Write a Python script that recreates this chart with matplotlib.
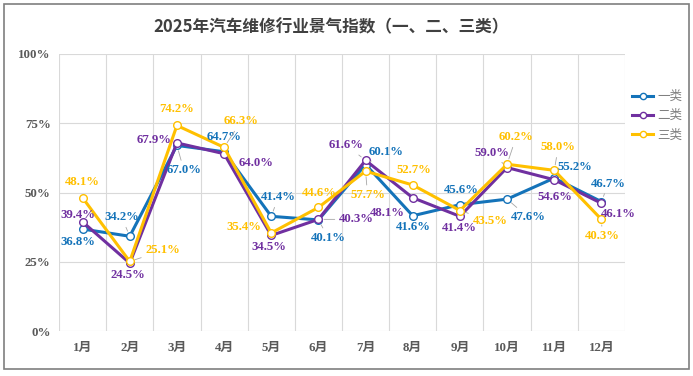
import matplotlib
matplotlib.use("Agg")
import matplotlib.pyplot as plt
from matplotlib.patches import Rectangle
import numpy as np

months = ["1月", "2月", "3月", "4月", "5月", "6月", "7月", "8月", "9月", "10月", "11月", "12月"]
series_names = ["一类", "二类", "三类"]
class1 = [36.8, 34.2, 67.0, 64.7, 41.4, 40.1, 60.1, 41.6, 45.6, 47.6, 55.2, 46.7]
class2 = [39.4, 24.5, 67.9, 64.0, 34.5, 40.3, 61.6, 48.1, 41.4, 59.0, 54.6, 46.1]
class3 = [48.1, 25.1, 74.2, 66.3, 35.4, 44.6, 57.7, 52.7, 43.5, 60.2, 58.0, 40.3]
yticks = [0, 25, 50, 75, 100]
ytick_labels = ["0%", "25%", "50%", "75%", "100%"]
title = "2025年汽车维修行业景气指数（一、二、三类）"

colors = ["#1473B9", "#7030A0", "#FFC000"]

# label offsets in pixels (dx, dy with dy positive = down) and leader flags
offsets = [
    [(-5, 13), (-8, -19), (7, 25), (0, -15), (7, -19), (10, 18), (21, -13), (1, 11), (1, -15), (21, 18), (21, -11), (7, -18)],
    [(-5, -7), (-2, 12), (-23, -3), (32, 9), (-2, 12), (38, 0), (-19, -15), (-25, 15), (-1, 12), (-15, -15), (1, 17), (17, 11)],
    [(0, -16), (33, -11), (0, -16), (17, -26), (-27, -6), (1, -14), (2, 24), (1, -15), (30, 10), (9, -27), (4, -23), (1, 17)],
]
leaders = [
    [0, 1, 1, 0, 1, 1, 1, 0, 0, 1, 0, 1],
    [0, 0, 0, 0, 0, 1, 1, 0, 0, 1, 0, 0],
    [0, 1, 0, 1, 0, 0, 1, 0, 1, 1, 1, 1],
]

fig = plt.figure(figsize=(6.93, 3.76), dpi=100)
fig.patches.append(Rectangle((4 / 693, 7 / 376), 685 / 693, 365 / 376, transform=fig.transFigure,
                             fill=False, edgecolor="#7f7f7f", linewidth=1.2))

ax = fig.add_axes([59 / 693, 45 / 376, 566 / 693, 277 / 376])
x = np.arange(len(months))
ax.set_xlim(-0.5, len(months) - 0.5)
ax.set_ylim(0, 100)

for s in ax.spines.values():
    s.set_visible(False)
for yv in yticks:
    ax.axhline(yv, color="#d9d9d9", lw=0.8, zorder=0)
for k in range(len(months) + 1):
    ax.axvline(k - 0.5, color="#d9d9d9", lw=0.8, zorder=0)

serif_bold = dict(family=["Liberation Serif", "Noto Sans CJK SC"], weight="bold")
ax.set_yticks(yticks)
ax.set_yticklabels(ytick_labels, fontsize=9.3, color="#595959", **serif_bold)
ax.set_xticks(x)
ax.set_xticklabels(months, fontsize=9.3, color="#595959", **serif_bold)
ax.tick_params(length=0, pad=8)
ax.tick_params(axis="y", pad=6)

all_series = [class1, class2, class3]
for vals, name, c in zip(all_series, series_names, colors):
    ax.plot(x, vals, color=c, lw=2.2, marker="o", markersize=5.5, markerfacecolor="white",
            markeredgecolor=c, markeredgewidth=1.0, label=name, zorder=3)

for si, (vals, c) in enumerate(zip(all_series, colors)):
    for i, v in enumerate(vals):
        dx, dy = offsets[si][i]
        kw = {}
        if leaders[si][i]:
            kw["arrowprops"] = dict(arrowstyle="-", color="#a6a6a6", lw=0.6, shrinkA=1, shrinkB=4)
        ax.annotate(f"{v:.1f}%", (i, v), xytext=(dx, -dy), textcoords="offset pixels",
                    ha="center", va="center", fontsize=9.2, color=c, zorder=5,
                    family="Liberation Serif", weight="bold", **kw)

fig.text(331 / 693, 1 - 27 / 376, title, ha="center", va="center", fontsize=12, color="#404040",
         family=["Noto Sans CJK SC", "DejaVu Sans"], weight="bold")

leg = fig.legend(loc="upper left", bbox_to_anchor=(627 / 693, 1 - 85 / 376), frameon=False,
                 prop={"family": ["Noto Sans CJK SC", "DejaVu Sans"], "size": 9},
                 handlelength=1.7, handletextpad=0.35, labelspacing=0.5, borderaxespad=0)
for t in leg.get_texts():
    t.set_color("#808080")
for h in leg.legend_handles:
    h.set_markersize(4.5)

fig.savefig("out.png", dpi=100)
